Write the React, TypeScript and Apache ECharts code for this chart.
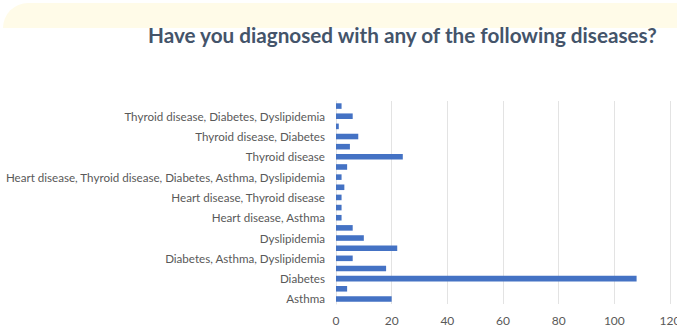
import React, { useEffect, useRef } from "react";
import * as echarts from "echarts";

// Survey answers, listed bottom to top along the category axis
const categories: string[] = [
  "Asthma",
  "Asthma, Dyslipidemia",
  "Diabetes",
  "Diabetes, Asthma",
  "Diabetes, Asthma, Dyslipidemia",
  "Diabetes, Dyslipidemia",
  "Dyslipidemia",
  "Heart disease",
  "Heart disease, Asthma",
  "Heart disease, Diabetes",
  "Heart disease, Thyroid disease",
  "Heart disease, Thyroid disease, Diabetes",
  "Heart disease, Thyroid disease, Diabetes, Asthma, Dyslipidemia",
  "Heart disease, Thyroid disease, Dyslipidemia",
  "Thyroid disease",
  "Thyroid disease, Asthma",
  "Thyroid disease, Diabetes",
  "Thyroid disease, Diabetes, Asthma",
  "Thyroid disease, Diabetes, Dyslipidemia",
  "Thyroid disease, Dyslipidemia",
];

const counts: number[] = [20, 4, 108, 18, 6, 22, 10, 6, 2, 2, 2, 3, 2, 4, 24, 5, 8, 1, 6, 2];

const xTicks = { min: 0, max: 120, interval: 20 };

const titleText = "Have you diagnosed with any of the following diseases?";

export default function App() {
  const ref = useRef<HTMLDivElement>(null);

  useEffect(() => {
    if (!ref.current) return;
    const chart = echarts.init(ref.current, undefined, { renderer: "svg" });
    chart.setOption({
      animation: false,
      backgroundColor: "#ffffff",
      graphic: [
        {
          type: "rect",
          shape: { x: 3, y: 3, width: 700, height: 25, r: [26, 26, 0, 0] },
          style: { fill: "#fffbe8" },
          silent: true,
          z: -10,
        },
      ],
      title: {
        text: titleText,
        left: 143,
        top: 19,
        textStyle: {
          fontFamily: "Lato",
          fontWeight: "bold",
          fontSize: 20.7,
          color: "#44546a",
        },
      },
      grid: {
        left: 336,
        right: 7,
        top: 101,
        bottom: 23,
        containLabel: false,
        outerBoundsMode: "none",
      },
      xAxis: {
        type: "value",
        min: xTicks.min,
        max: xTicks.max,
        interval: xTicks.interval,
        axisLine: { show: false },
        axisTick: { show: false },
        splitLine: { show: true, lineStyle: { color: "#e3e3e3", width: 1 } },
        axisLabel: {
          color: "#595959",
          fontFamily: "Lato",
          fontSize: 12,
          margin: 10,
        },
      },
      yAxis: {
        type: "category",
        data: categories,
        axisLine: { show: true, lineStyle: { color: "#e3e3e3" } },
        axisTick: { show: false },
        axisLabel: {
          interval: 1,
          color: "#595959",
          fontFamily: "Lato",
          fontSize: 11.6,
          margin: 11,
        },
      },
      series: [
        {
          type: "bar",
          data: counts,
          barWidth: "55%",
          itemStyle: { color: "#4472c4" },
        },
      ],
    });
    return () => chart.dispose();
  }, []);

  return (
    <div
      ref={ref}
      style={{ position: "fixed", left: 0, top: 0, width: 677, height: 327 }}
    />
  );
}
